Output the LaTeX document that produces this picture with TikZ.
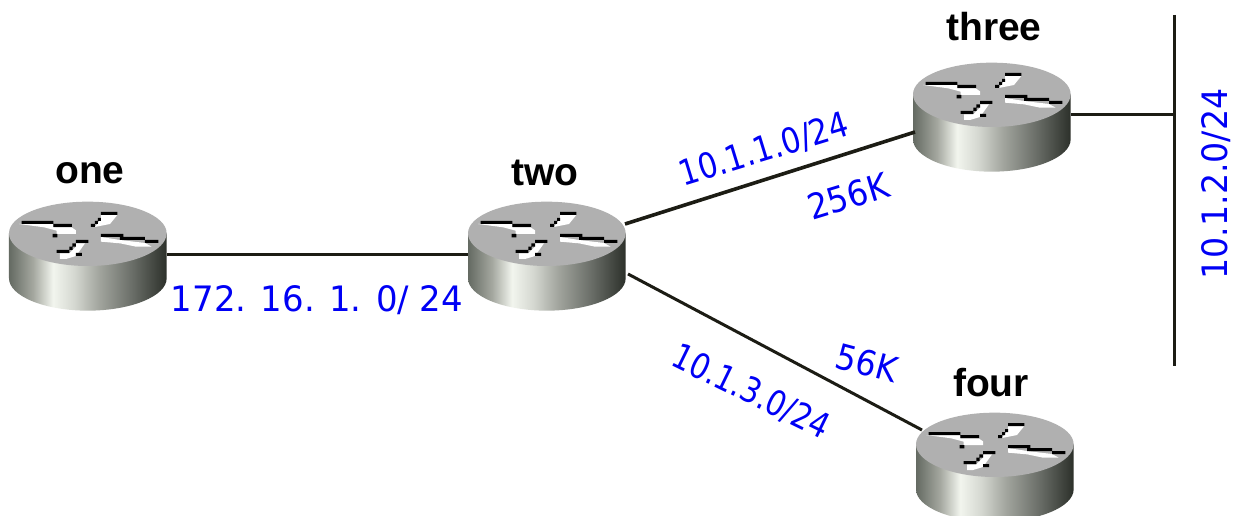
\documentclass[tikz,border=0pt]{standalone}
\usepackage{fontspec}
\setmainfont{Liberation Sans}
\newfontfamily\netfont{DejaVu Sans}
\definecolor{netblue}{RGB}{0,0,245}
\definecolor{rtop}{RGB}{176,176,176}
\definecolor{linedark}{RGB}{28,28,20}
\definecolor{sa}{RGB}{100,106,98}
\definecolor{sb}{RGB}{165,168,160}
\definecolor{sc}{RGB}{242,245,238}
\definecolor{sd}{RGB}{214,217,210}
\definecolor{se}{RGB}{160,163,156}
\definecolor{sf}{RGB}{104,108,102}
\definecolor{sg}{RGB}{44,48,42}
\pgfdeclarehorizontalshading{routerbody}{100bp}{
 color(0bp)=(sa); color(25bp)=(sa); color(32.7bp)=(sb); color(39bp)=(sc); color(45.4bp)=(sd);
 color(53.9bp)=(se); color(64.4bp)=(sf); color(75bp)=(sg); color(100bp)=(sg)}
\tikzset{
 wirelink/.style={draw=linedark,line width=3pt},
 hostname/.style={font=\fontsize{39}{39}\bfseries\selectfont,text=black,inner sep=0pt},
 netlabel/.style={font=\netfont\fontsize{35}{35}\selectfont,text=netblue,inner sep=0pt,transform shape},
 routerbox/.style={inner sep=0pt,minimum width=158pt,minimum height=108pt},
 router/.pic={
  \begin{scope}[x=.33333pt,y=-.33333pt]
  \shade[shading=routerbody] (27,250) -- (27,385) .. controls (27,438) and (133,482) .. (263,482)
     .. controls (394,482) and (500,438) .. (500,385) -- (500,250) -- cycle;
  \fill[rtop] (27,250) .. controls (27,197) and (133,155) .. (263,155)
     .. controls (394,155) and (500,197) .. (500,250)
     .. controls (500,303) and (394,348) .. (263,348)
     .. controls (133,348) and (27,303) .. (27,250) -- cycle;
  \fill[white] (57,222) -- (160,222) -- (160,232) -- (215,232) -- (228,241) -- (228,252) -- (170,252) -- (170,242) -- (133,232) -- cycle;
  \fill[white] (303,195) -- (352,195) -- (330,222) -- (285,231) -- (303,205) -- cycle;
  \fill[white] (303,261) -- (360,270) -- (435,279) -- (455,290) -- (408,290) -- (360,280) -- (303,275) -- cycle;
  \fill[white] (228,280) -- (255,280) -- (228,318) -- (198,327) -- (180,327) -- (180,310) -- (208,310) -- (228,290) -- cycle;
  \fill[black] (65,213) rectangle (160,222) (160,222) rectangle (216,231) (158,252) rectangle (172,262);
  \fill[black] (303,186) rectangle (352,195) (294,204) rectangle (303,213) (285,213) rectangle (294,222) (273,222) rectangle (285,231);
  \fill[black] (303,252) rectangle (370,261) (360,261) rectangle (435,270) (435,270) rectangle (475,279);
  \fill[black] (228,270) rectangle (265,279) (217,280) rectangle (228,290) (208,290) rectangle (218,300) (170,300) rectangle (208,309) (228,309) rectangle (246,318);
  \end{scope}
 }
}
\begin{document}
\begin{tikzpicture}[x=1pt,y=-1pt]
\useasboundingbox (0,0) rectangle (1235,516);
\fill[white] (0,0) rectangle (1235,516);
% routers
\pic at (0,150) {router};
\pic at (459,150) {router};
\pic at (904,11) {router};
\pic at (907,361) {router};
\node[routerbox] (one) at (88,256) {};
\node[routerbox] (two) at (547,256) {};
\node[routerbox] (three) at (992,117) {};
\node[routerbox] (four) at (995,467) {};
% hostnames
\node[hostname] (n1) at (90,173) {one};
\node[hostname] (n2) at (545,173) {two};
\node[hostname] (n3) at (994,27) {three};
\node[hostname] (n4) at (991,383) {four};
% ports
\coordinate (bustop) at (1174,15);
\coordinate (busbot) at (1174,366);
\coordinate (bustap) at (1174,115);
\coordinate (p3) at (1071,115);
\coordinate (p2a) at (625,224);
\coordinate (p3a) at (915,132);
\coordinate (p2b) at (628,274);
\coordinate (p4b) at (922,430);
\coordinate (p1) at (167,254);
\coordinate (p2) at (468,254);
% links
\draw[wirelink] (p1) -- (p2);
\draw[wirelink,line width=3.6pt] (p2a) -- (p3a);
\draw[wirelink] (p2b) -- (p4b);
\draw[wirelink] (p3) -- (bustap);
\draw[wirelink] (bustop) -- (busbot);
% labels
\node[netlabel,xscale=.97] (l1) at (317,300) {172. 16. 1. 0/ 24};
\node[netlabel,rotate=17,xscale=.87] (l2) at (764,150) {10.1.1.0/24};
\node[netlabel,rotate=17,xscale=.92] (l3) at (848,196) {256K};
\node[netlabel,rotate=-26,xscale=.85] (l4) at (751,392) {10.1.3.0/24};
\node[netlabel,rotate=-15,xscale=.92] (l5) at (867,363) {56K};
\node[netlabel,rotate=90,xscale=.95] (l6) at (1216,184) {10.1.2.0/24};
\end{tikzpicture}
\end{document}
